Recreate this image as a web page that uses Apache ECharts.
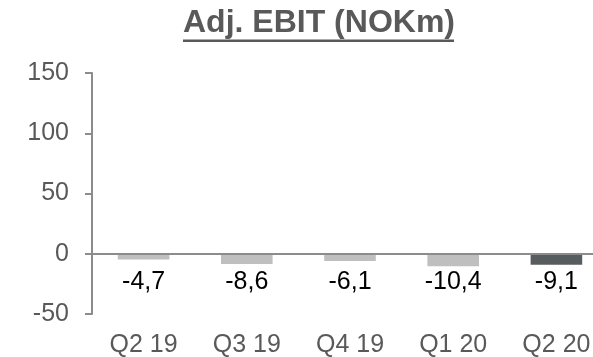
<!DOCTYPE html>
<html>
<head>
<meta charset="utf-8">
<script src="https://cdn.jsdelivr.net/npm/echarts@6/dist/echarts.min.js"></script>
<style>
  html, body { margin: 0; padding: 0; background: #ffffff; }
  #chart { width: 593px; height: 357px; }
</style>
</head>
<body>
<div id="chart"></div>
<script>
// Quarterly adjusted EBIT, NOK million
const quarters = ['Q2 19', 'Q3 19', 'Q4 19', 'Q1 20', 'Q2 20'];
const adjEbit = [-4.7, -8.6, -6.1, -10.4, -9.1];
const valueTicks = [-50, 0, 50, 100, 150];

const FONT = '"Liberation Sans", Arial, sans-serif';
const GREY_TEXT = '#595959';
const AXIS_GREY = '#8c8c8c';
const BAR_LIGHT = '#bfbfbf';
const BAR_DARK = '#575d5e';

const chart = echarts.init(document.getElementById('chart'), null, { renderer: 'canvas' });

const lastIndex = adjEbit.length - 1;

chart.setOption({
  animation: false,
  backgroundColor: '#ffffff',
  title: {
    text: 'Adj. EBIT (NOKm)',
    left: 183,
    top: 7,
    padding: 0,
    textStyle: {
      fontFamily: FONT,
      fontSize: 32,
      fontWeight: 'bold',
      color: GREY_TEXT
    }
  },
  graphic: [{
    // underline beneath the title
    type: 'rect',
    shape: { x: 183, y: 39.5, width: 271, height: 2.5 },
    style: { fill: GREY_TEXT }
  }],
  grid: {
    left: 92,
    right: -15,
    top: 73,
    bottom: 43,
    containLabel: false,
    outerBoundsMode: 'none'
  },
  xAxis: {
    type: 'category',
    data: quarters,
    axisLine: { show: false, onZero: false },
    axisTick: { show: false },
    axisLabel: {
      interval: 0,
      margin: 19,
      fontFamily: FONT,
      fontSize: 25,
      color: GREY_TEXT
    },
    splitLine: { show: false }
  },
  yAxis: {
    type: 'value',
    min: valueTicks[0],
    max: valueTicks[valueTicks.length - 1],
    interval: 50,
    axisLine: { show: true, lineStyle: { color: AXIS_GREY, width: 2 } },
    axisTick: { show: true, inside: false, length: 7, lineStyle: { color: AXIS_GREY, width: 2 } },
    axisLabel: {
      margin: 23,
      fontFamily: FONT,
      fontSize: 25,
      color: GREY_TEXT
    },
    splitLine: { show: false }
  },
  series: [{
    type: 'bar',
    barWidth: '50%',
    data: adjEbit.map((v, i) => ({
      value: v,
      itemStyle: { color: i === lastIndex ? BAR_DARK : BAR_LIGHT }
    })),
    label: {
      show: true,
      position: ['50%', 28],
      align: 'center',
      verticalAlign: 'middle',
      fontFamily: FONT,
      fontSize: 25,
      color: '#000000',
      formatter: p => String(p.value).replace('.', ',')
    },
    // zero baseline across the plot
    markLine: {
      silent: true,
      symbol: 'none',
      label: { show: false },
      lineStyle: { color: AXIS_GREY, width: 2, type: 'solid' },
      data: [{ yAxis: 0 }]
    }
  }]
});
</script>
</body>
</html>
